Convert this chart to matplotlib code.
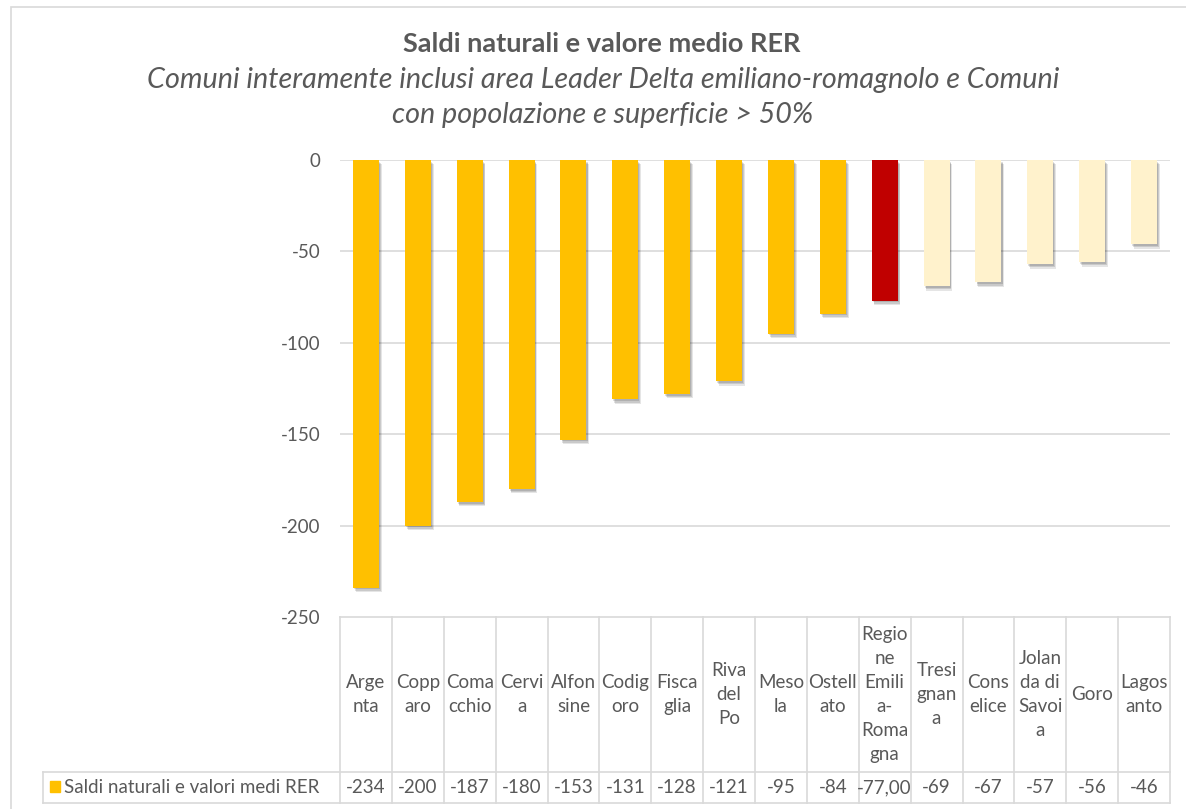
import matplotlib

matplotlib.use("Agg")
import matplotlib.pyplot as plt
import matplotlib.patheffects as pe
from matplotlib.patches import Rectangle
from matplotlib.transforms import blended_transform_factory

plt.rcParams["font.family"] = ["Lato", "DejaVu Sans"]

# data
categories = [
    "Arge\nnta", "Copp\naro", "Coma\ncchio", "Cervi\na", "Alfon\nsine", "Codig\noro",
    "Fisca\nglia", "Riva\ndel\nPo", "Meso\nla", "Ostell\nato",
    "Regio\nne\nEmili\na-\nRoma\ngna", "Tresi\ngnan\na", "Cons\nelice",
    "Jolan\nda di\nSavoi\na", "Goro", "Lagos\nanto",
]
values = [-234, -200, -187, -180, -153, -131, -128, -121, -95, -84, -77, -69, -67, -57, -56, -46]
value_labels = ["-234", "-200", "-187", "-180", "-153", "-131", "-128", "-121", "-95", "-84",
                "-77,00", "-69", "-67", "-57", "-56", "-46"]
groups = ["above"] * 10 + ["rer"] + ["below"] * 5
series_name = "Saldi naturali e valori medi RER"
yticks = [0, -50, -100, -150, -200, -250]

GROUP_COLORS = {"above": "#FFC000", "rer": "#C00000", "below": "#FFF2CC"}
TEXT = "#595959"
GRID = "#D9D9D9"
FS = 13.5

W, H = 1186, 809
fig = plt.figure(figsize=(W / 100, H / 100), dpi=100)


def fx(px):
    return px / W


def fy(py):
    return 1 - py / H


# outer chart frame
fig.patches.append(Rectangle((fx(11), fy(1000)), 2, fy(7) - fy(1000), transform=fig.transFigure,
                             fill=False, edgecolor=GRID, linewidth=1.2))

ax_left, ax_right, ax_top, ax_bottom = 340, 1170, 160, 617
ax = fig.add_axes([fx(ax_left), fy(ax_bottom), fx(ax_right) - fx(ax_left), fy(ax_top) - fy(ax_bottom)])

n = len(categories)
xs = list(range(n))
# soft drop shadow, several faint layers to fake a blur
shadow = [
    pe.SimplePatchShadow(offset=(0.8, -1.2), shadow_rgbFace="black", alpha=0.12),
    pe.SimplePatchShadow(offset=(1.4, -2.2), shadow_rgbFace="black", alpha=0.12),
    pe.SimplePatchShadow(offset=(2.0, -3.2), shadow_rgbFace="black", alpha=0.10),
    pe.Normal(),
]
bars = ax.bar(xs, values, width=0.5, color=[GROUP_COLORS[g] for g in groups], zorder=3)
for bar in bars:
    bar.set_path_effects(shadow)

ax.set_xlim(-0.5, n - 0.5)
ax.set_ylim(-250, 0)
ax.set_yticks(yticks)
ax.set_yticklabels([str(t) for t in yticks])
ax.set_xticks([])
ax.tick_params(axis="y", length=0, pad=14, labelsize=FS, labelcolor=TEXT)
for t in yticks[:-1]:
    ax.axhline(t, color=GRID, linewidth=1.2, zorder=1)
for spine in ax.spines.values():
    spine.set_visible(False)

# data table under the plot
trans = blended_transform_factory(ax.transData, fig.transFigure)
row1_top, row1_bot, row2_bot = fy(617), fy(772), fy(803)
line_kw = dict(color=GRID, linewidth=1.2, transform=trans, clip_on=False)
ax.plot([-0.5, n - 0.5], [row1_top, row1_top], **line_kw)
for i in range(n + 1):
    ax.plot([i - 0.5, i - 0.5], [row1_top, row2_bot], **line_kw)
fig.add_artist(plt.Line2D([fx(43), fx(ax_right)], [row1_bot, row1_bot], color=GRID, linewidth=1.2))
fig.add_artist(plt.Line2D([fx(43), fx(ax_right)], [row2_bot, row2_bot], color=GRID, linewidth=1.2))
fig.add_artist(plt.Line2D([fx(43), fx(43)], [row1_bot, row2_bot], color=GRID, linewidth=1.2))

for i, (cat, lab) in enumerate(zip(categories, value_labels)):
    ax.text(i, (row1_top + row1_bot) / 2, cat, transform=trans, ha="center", va="center",
            fontsize=FS, color=TEXT, linespacing=1.5, clip_on=False)
    ax.text(i, (row1_bot + row2_bot) / 2, lab, transform=trans, ha="center", va="center",
            fontsize=FS, color=TEXT, clip_on=False)

fig.patches.append(Rectangle((fx(50), fy(792)), fx(60) - fx(50), fy(781) - fy(792), transform=fig.transFigure,
                             color=GROUP_COLORS["above"]))
fig.text(fx(64), (row1_bot + row2_bot) / 2, series_name, ha="left", va="center", fontsize=FS, color=TEXT)

fig.text(fx(602), fy(44), "Saldi naturali e valore medio RER", ha="center", va="center",
         fontsize=19.5, fontweight="bold", color=TEXT)
fig.text(fx(603), fy(80), "Comuni interamente inclusi area Leader Delta emiliano-romagnolo e Comuni",
         ha="center", va="center", fontsize=20.7, style="italic", color=TEXT)
fig.text(fx(603), fy(115), "con popolazione e superficie > 50%",
         ha="center", va="center", fontsize=20.7, style="italic", color=TEXT)

fig.savefig("out.png", dpi=100, facecolor="white")
